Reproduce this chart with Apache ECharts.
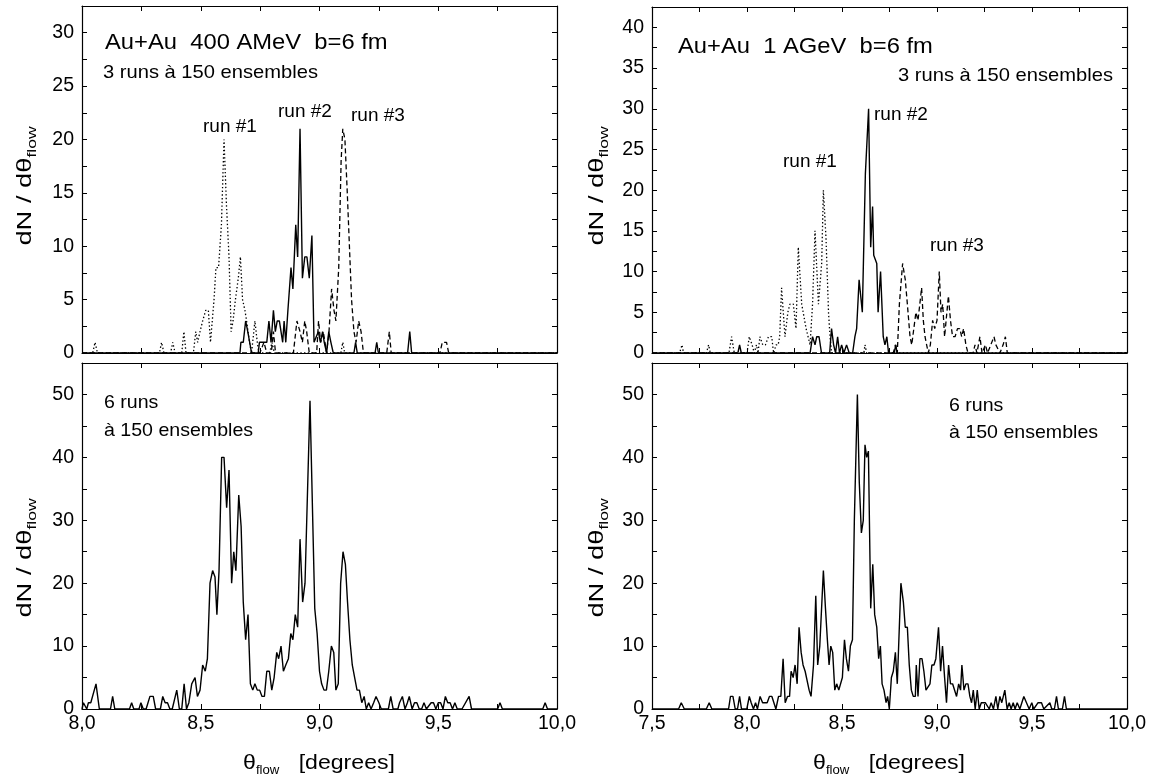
<!DOCTYPE html>
<html><head><meta charset="utf-8">
<script src="https://cdn.jsdelivr.net/npm/echarts@6/dist/echarts.min.js"></script>
<style>html,body{margin:0;padding:0;background:#fff}#c{width:1152px;height:781px}</style>
</head><body><div id="c"></div>
<script>
// ---------- data: [theta_flow, dN/dtheta] ----------
// top left, Au+Au 400 AMeV, 3 runs
const tlRun1 = [[8.0,0],[8.045,0],[8.055,1],[8.065,0],[8.326,0],[8.335,1],[8.345,0],[8.373,0],[8.382,1],[8.392,0],[8.42,0],[8.429,2],[8.438,0],[8.469,0],[8.479,2],[8.487,1],[8.497,2],[8.508,3],[8.521,4],[8.532,4],[8.541,1],[8.556,5],[8.564,8],[8.575,8],[8.587,12],[8.598,20],[8.608,14],[8.619,9],[8.628,2],[8.636,3],[8.646,5],[8.658,7],[8.667,9],[8.676,5],[8.686,4],[8.693,3],[8.705,1],[8.714,0],[8.722,0],[8.728,3],[8.738,1],[8.745,0],[8.79,0],[8.8,1],[8.81,0],[9.09,0],[9.098,1],[9.106,0],[10.0,0]];
const tlRun2 = [[8.0,0],[8.665,0],[8.669,1],[8.679,1],[8.689,3],[8.698,2],[8.706,2],[8.714,0],[8.742,0],[8.747,1],[8.756,1],[8.766,1],[8.778,1],[8.787,3],[8.796,1],[8.806,4],[8.814,2],[8.822,3],[8.831,3],[8.839,3],[8.845,1],[8.851,3],[8.858,1],[8.867,4],[8.88,8],[8.888,6],[8.9,12],[8.908,9],[8.918,21],[8.928,7],[8.938,9],[8.947,9],[8.957,7],[8.968,11],[8.977,1],[8.985,1],[8.995,2],[9.004,1],[9.013,2],[9.02,1],[9.03,0],[9.039,2],[9.048,1],[9.058,0],[9.145,0],[9.152,1],[9.159,0],[9.234,0],[9.241,1],[9.248,0],[9.371,0],[9.38,2],[9.388,0],[10.0,0]];
const tlRun3 = [[8.0,0],[8.749,0],[8.766,1],[8.778,0],[8.797,0],[8.806,2],[8.815,0],[8.89,0],[8.905,3],[8.918,2],[8.928,1],[8.938,3],[8.946,2],[8.957,0],[8.988,0],[8.996,3],[9.005,1],[9.016,2],[9.03,0],[9.04,2],[9.051,6],[9.061,4],[9.069,3],[9.081,8],[9.091,18],[9.098,21],[9.107,20],[9.117,15],[9.126,10],[9.135,5],[9.145,2],[9.154,1],[9.165,3],[9.175,2],[9.185,0],[9.283,0],[9.294,2],[9.302,0],[9.507,0],[9.517,1],[9.526,1],[9.535,1],[9.544,0],[10.0,0]];
// bottom left, 6 runs summed
const blSum = [[8.0,0],[8.006,1],[8.013,1],[8.02,0],[8.027,1],[8.037,1],[8.059,4],[8.073,0],[8.12,0],[8.129,2],[8.138,0],[8.2,0],[8.209,1],[8.218,0],[8.24,0],[8.248,1],[8.258,0],[8.27,0],[8.286,2],[8.3,2],[8.31,0],[8.33,0],[8.34,2],[8.35,1],[8.36,1],[8.37,0],[8.38,0],[8.399,3],[8.41,0],[8.42,0],[8.43,4],[8.44,0],[8.45,1],[8.462,4],[8.476,5],[8.486,2],[8.497,3],[8.508,7],[8.519,6],[8.528,8],[8.539,20],[8.55,22],[8.56,21],[8.568,15],[8.577,22],[8.588,40],[8.598,40],[8.609,32],[8.619,38],[8.63,20],[8.639,25],[8.648,22],[8.66,34],[8.67,29],[8.679,17],[8.689,11],[8.699,15],[8.709,4],[8.719,3],[8.728,4],[8.738,3],[8.748,3],[8.758,2],[8.768,2],[8.778,6],[8.789,6],[8.799,3],[8.809,5],[8.82,9],[8.828,8],[8.838,10],[8.848,6],[8.858,7],[8.869,8],[8.879,12],[8.888,11],[8.898,15],[8.908,13],[8.918,27],[8.929,17],[8.939,20],[8.96,49],[8.98,16],[8.99,12],[9.0,6],[9.009,4],[9.019,3],[9.029,3],[9.039,6],[9.05,10],[9.06,9],[9.069,3],[9.079,4],[9.089,20],[9.099,25],[9.109,23],[9.118,17],[9.128,11],[9.138,7],[9.148,5],[9.158,3],[9.168,3],[9.178,1],[9.188,2],[9.197,0],[9.207,1],[9.217,0],[9.228,1],[9.238,2],[9.25,1],[9.26,0],[9.29,0],[9.3,2],[9.31,0],[9.33,0],[9.337,1],[9.349,2],[9.36,0],[9.37,1],[9.378,2],[9.39,0],[9.4,1],[9.41,1],[9.42,0],[9.43,0],[9.44,1],[9.45,0],[9.47,1],[9.48,1],[9.49,0],[9.5,1],[9.51,1],[9.52,0],[9.53,2],[9.54,1],[9.55,1],[9.56,0],[9.57,1],[9.58,0],[9.6,0],[9.63,2],[9.64,0],[9.75,0],[9.76,1],[9.77,0],[9.94,0],[9.95,1],[9.96,0],[10.0,0]];
// top right, Au+Au 1 AGeV, 3 runs
const trRun1 = [[7.5,0],[7.645,0],[7.658,1],[7.666,0],[7.786,0],[7.798,1],[7.807,0],[7.905,0],[7.919,2],[7.933,0],[8.0,0],[8.012,2],[8.027,1],[8.038,0],[8.05,1],[8.058,0],[8.068,2],[8.083,1],[8.097,1],[8.113,2],[8.13,2],[8.14,0],[8.153,1],[8.164,1],[8.172,2],[8.182,8],[8.2,2],[8.215,5],[8.226,6],[8.244,6],[8.258,3],[8.27,13],[8.288,6],[8.311,3],[8.332,1],[8.345,6],[8.358,15],[8.376,6],[8.393,11],[8.402,20],[8.416,14],[8.429,5],[8.437,2],[8.445,0],[8.615,0],[8.621,1],[8.63,0],[10.0,0]];
const trRun2 = [[7.5,0],[7.952,0],[7.961,1],[7.97,0],[8.332,0],[8.345,2],[8.358,1],[8.367,2],[8.379,2],[8.392,0],[8.435,0],[8.445,3],[8.456,1],[8.466,0],[8.477,2],[8.487,0],[8.498,1],[8.51,0],[8.524,1],[8.538,0],[8.556,0],[8.568,2],[8.577,3],[8.59,9],[8.607,5],[8.623,22],[8.64,30],[8.651,13],[8.661,18],[8.667,12],[8.683,11],[8.69,5],[8.703,10],[8.717,2],[8.726,1],[8.736,2],[8.745,0],[8.775,0],[8.783,1],[8.79,0],[10.0,0]];
const trRun3 = [[7.5,0],[8.77,0],[8.781,1],[8.791,0],[8.802,6],[8.819,11],[8.833,9],[8.844,6],[8.858,2],[8.867,1],[8.876,1],[8.889,5],[8.9,4],[8.919,8],[8.928,4],[8.937,2],[8.954,0],[8.965,1],[8.977,4],[8.988,3],[9.0,4],[9.012,10],[9.021,5],[9.03,6],[9.04,2],[9.06,7],[9.071,4],[9.082,2],[9.095,2],[9.108,3],[9.12,3],[9.13,2],[9.14,3],[9.152,1],[9.163,0],[9.19,0],[9.2,1],[9.21,0],[9.226,2],[9.237,0],[9.255,1],[9.266,0],[9.3,2],[9.31,1],[9.32,1],[9.331,0],[9.348,1],[9.36,2],[9.37,0],[10.0,0]];
// bottom right, 6 runs summed
const brSum = [[7.5,0],[7.64,0],[7.654,1],[7.67,0],[7.786,0],[7.801,1],[7.815,0],[7.903,0],[7.913,2],[7.926,2],[7.938,0],[7.95,0],[7.961,2],[7.971,0],[7.999,0],[8.012,2],[8.022,1],[8.034,0],[8.045,1],[8.055,0],[8.069,2],[8.082,1],[8.094,1],[8.106,1],[8.118,2],[8.131,2],[8.141,2],[8.152,0],[8.166,2],[8.178,2],[8.19,8],[8.201,1],[8.213,2],[8.224,2],[8.232,6],[8.243,5],[8.253,7],[8.264,4],[8.274,13],[8.285,9],[8.295,7],[8.306,6],[8.316,6],[8.327,3],[8.337,2],[8.35,7],[8.362,18],[8.372,7],[8.383,10],[8.393,10],[8.402,22],[8.413,16],[8.423,11],[8.432,7],[8.441,10],[8.451,9],[8.462,3],[8.472,4],[8.483,3],[8.493,3],[8.502,5],[8.513,11],[8.523,8],[8.534,6],[8.544,10],[8.555,11],[8.565,30],[8.581,50],[8.591,36],[8.602,28],[8.612,30],[8.621,42],[8.63,40],[8.639,41],[8.651,16],[8.662,23],[8.672,15],[8.683,13],[8.693,8],[8.702,10],[8.711,4],[8.721,3],[8.732,1],[8.74,2],[8.749,0],[8.76,5],[8.77,6],[8.781,9],[8.791,4],[8.81,20],[8.823,17],[8.833,13],[8.844,13],[8.854,7],[8.865,3],[8.875,2],[8.886,2],[8.891,7],[8.9,2],[8.91,8],[8.921,8],[8.931,6],[8.942,3],[8.952,3],[8.963,4],[8.973,7],[8.984,7],[8.994,8],[9.0,8],[9.008,13],[9.019,6],[9.029,10],[9.04,5],[9.05,1],[9.061,7],[9.071,4],[9.082,4],[9.092,4],[9.103,2],[9.114,4],[9.124,3],[9.131,7],[9.142,3],[9.152,4],[9.163,4],[9.173,2],[9.182,1],[9.191,3],[9.201,0],[9.212,3],[9.222,0],[9.233,1],[9.243,1],[9.254,1],[9.264,1],[9.275,0],[9.285,1],[9.297,0],[9.31,2],[9.32,0],[9.331,2],[9.341,1],[9.357,3],[9.369,0],[9.38,1],[9.39,0],[9.401,1],[9.411,0],[9.422,1],[9.436,0],[9.457,2],[9.471,1],[9.485,0],[9.499,1],[9.509,0],[9.532,1],[9.55,1],[9.562,0],[9.594,1],[9.604,0],[9.618,0],[9.629,2],[9.639,0],[9.66,0],[9.671,2],[9.681,0],[10.0,0]];

// axis ranges and tick labels
const xRangeLeft = [8.0, 10.0];
const xRangeRight = [7.5, 10.0];
const yMaxPanels = [32.5, 55, 42.5, 55];      // TL, BL, TR, BR
const yTickStep = [2.5, 5, 2.5, 5];
const yLabelStep = [5, 10, 5, 10];
const xTickLabelsLeft = ['8,0','8,5','9,0','9,5','10,0'];
const xTickLabelsRight = ['7,5','8,0','8,5','9,0','9,5','10,0'];

// ---------- chart ----------
const FONT = '"Liberation Sans", Arial, sans-serif';
const chart = echarts.init(document.getElementById('c'), null, {renderer: 'canvas'});

const grids = [
  {left: 82, top: 6, width: 475, height: 347},
  {left: 82, top: 363, width: 475, height: 346},
  {left: 652, top: 7, width: 475, height: 346},
  {left: 652, top: 363, width: 475, height: 346}
];
const xRanges = [xRangeLeft, xRangeLeft, xRangeRight, xRangeRight];
const xLabelSets = [null, xTickLabelsLeft, null, xTickLabelsRight];

function xFmt(v) { return v.toFixed(1).replace('.', ','); }

const lineAx = {show: true, onZero: false, lineStyle: {color: '#000', width: 1.2}};
const tickAx = {show: true, inside: true, length: 5, lineStyle: {color: '#000', width: 1}};

const xAxes = [], yAxes = [];
grids.forEach((g, i) => {
  const labels = xLabelSets[i];
  const ls = yLabelStep[i];
  xAxes.push({type: 'value', gridIndex: i, position: 'bottom', min: xRanges[i][0], max: xRanges[i][1], interval: 0.25,
    axisLine: lineAx, axisTick: tickAx, splitLine: {show: false},
    axisLabel: {show: !!labels, margin: 5, color: '#000', fontSize: 19.5, fontFamily: FONT,
      formatter: v => { const s = xFmt(v); return labels && Math.abs(v * 2 - Math.round(v * 2)) < 1e-6 && labels.indexOf(s) >= 0 ? s : ''; }}});
  xAxes.push({type: 'value', gridIndex: i, position: 'top', min: xRanges[i][0], max: xRanges[i][1], interval: 0.25,
    axisLine: lineAx, axisTick: tickAx, splitLine: {show: false}, axisLabel: {show: false}});
  yAxes.push({type: 'value', gridIndex: i, position: 'left', min: 0, max: yMaxPanels[i], interval: yTickStep[i],
    axisLine: lineAx, axisTick: tickAx, splitLine: {show: false},
    axisLabel: {show: true, margin: 8, color: '#000', fontSize: 19.5, fontFamily: FONT, showMaxLabel: false,
      formatter: v => (Math.abs(v / ls - Math.round(v / ls)) < 1e-6) ? String(Math.round(v)) : ''}});
  yAxes.push({type: 'value', gridIndex: i, position: 'right', min: 0, max: yMaxPanels[i], interval: yTickStep[i],
    axisLine: lineAx, axisTick: tickAx, splitLine: {show: false}, axisLabel: {show: false}});
});

function ser(data, gi, dash, width) {
  return {type: 'line', data: data, xAxisIndex: gi * 2, yAxisIndex: gi * 2, symbol: 'none', showSymbol: false,
    animation: false, silent: true,
    lineStyle: {color: '#000', width: width || 1.3, type: dash || 'solid'}};
}
const DOT = [1.4, 2.3], DASH = [5, 3];
const series = [
  ser(tlRun1, 0, DOT), ser(tlRun3, 0, DASH), ser(tlRun2, 0, 'solid', 1.4),
  ser(blSum, 1, 'solid', 1.4),
  ser(trRun1, 2, DOT), ser(trRun3, 2, DASH), ser(trRun2, 2, 'solid', 1.4),
  ser(brSum, 3, 'solid', 1.4)
];

function txt(s, x, y, size, sx) {
  return {type: 'text', x: x, y: y, scaleX: sx || 1, silent: true,
    style: {text: s, fill: '#000', font: size + 'px ' + FONT, align: 'left', verticalAlign: 'middle',
      textAlign: 'left', textVerticalAlign: 'middle'}};
}
function yTitle(x, y) {
  return {type: 'text', x: x, y: y, rotation: Math.PI / 2, scaleX: 1.4, silent: true,
    style: {text: '{a|dN / dθ}{b|flow}', align: 'center', verticalAlign: 'middle',
      rich: {a: {fontSize: 19.5, fontFamily: FONT, fill: '#000', lineHeight: 26, verticalAlign: 'middle'},
             b: {fontSize: 12.5, fontFamily: FONT, fill: '#000', lineHeight: 26, verticalAlign: 'bottom'}}}};
}
function xTitle(x, y) {
  return {type: 'text', x: x, y: y, scaleX: 1.1, silent: true,
    style: {text: '{a|θ}{b|flow}{a|   [degrees]}', align: 'center', verticalAlign: 'middle',
      rich: {a: {fontSize: 21, fontFamily: FONT, fill: '#000', lineHeight: 28, verticalAlign: 'middle'},
             b: {fontSize: 12, fontFamily: FONT, fill: '#000', lineHeight: 28, verticalAlign: 'bottom'}}}};
}

const graphic = [
  txt('Au+Au  400 AMeV  b=6 fm', 105, 43, 22, 1.08),
  txt('3 runs à 150 ensembles', 103, 73, 19, 1.06),
  txt('run #1', 203, 127, 19),
  txt('run #2', 278, 112, 19),
  txt('run #3', 351, 116, 19),
  txt('Au+Au  1 AGeV  b=6 fm', 678, 47, 22, 1.08),
  txt('3 runs à 150 ensembles', 898, 76, 19, 1.06),
  txt('run #2', 874, 115, 19),
  txt('run #1', 783, 162, 19),
  txt('run #3', 930, 246, 19),
  txt('6 runs', 104, 403, 19, 1.03),
  txt('à 150 ensembles', 104, 431, 19, 1.03),
  txt('6 runs', 949, 406, 19, 1.03),
  txt('à 150 ensembles', 949, 433, 19, 1.03),
  yTitle(26, 186), yTitle(26, 558), yTitle(598, 186), yTitle(598, 558),
  xTitle(319, 763), xTitle(889, 763)
];

chart.setOption({
  backgroundColor: '#fff',
  animation: false,
  grid: grids,
  xAxis: xAxes,
  yAxis: yAxes,
  series: series,
  graphic: graphic
});
</script></body></html>
